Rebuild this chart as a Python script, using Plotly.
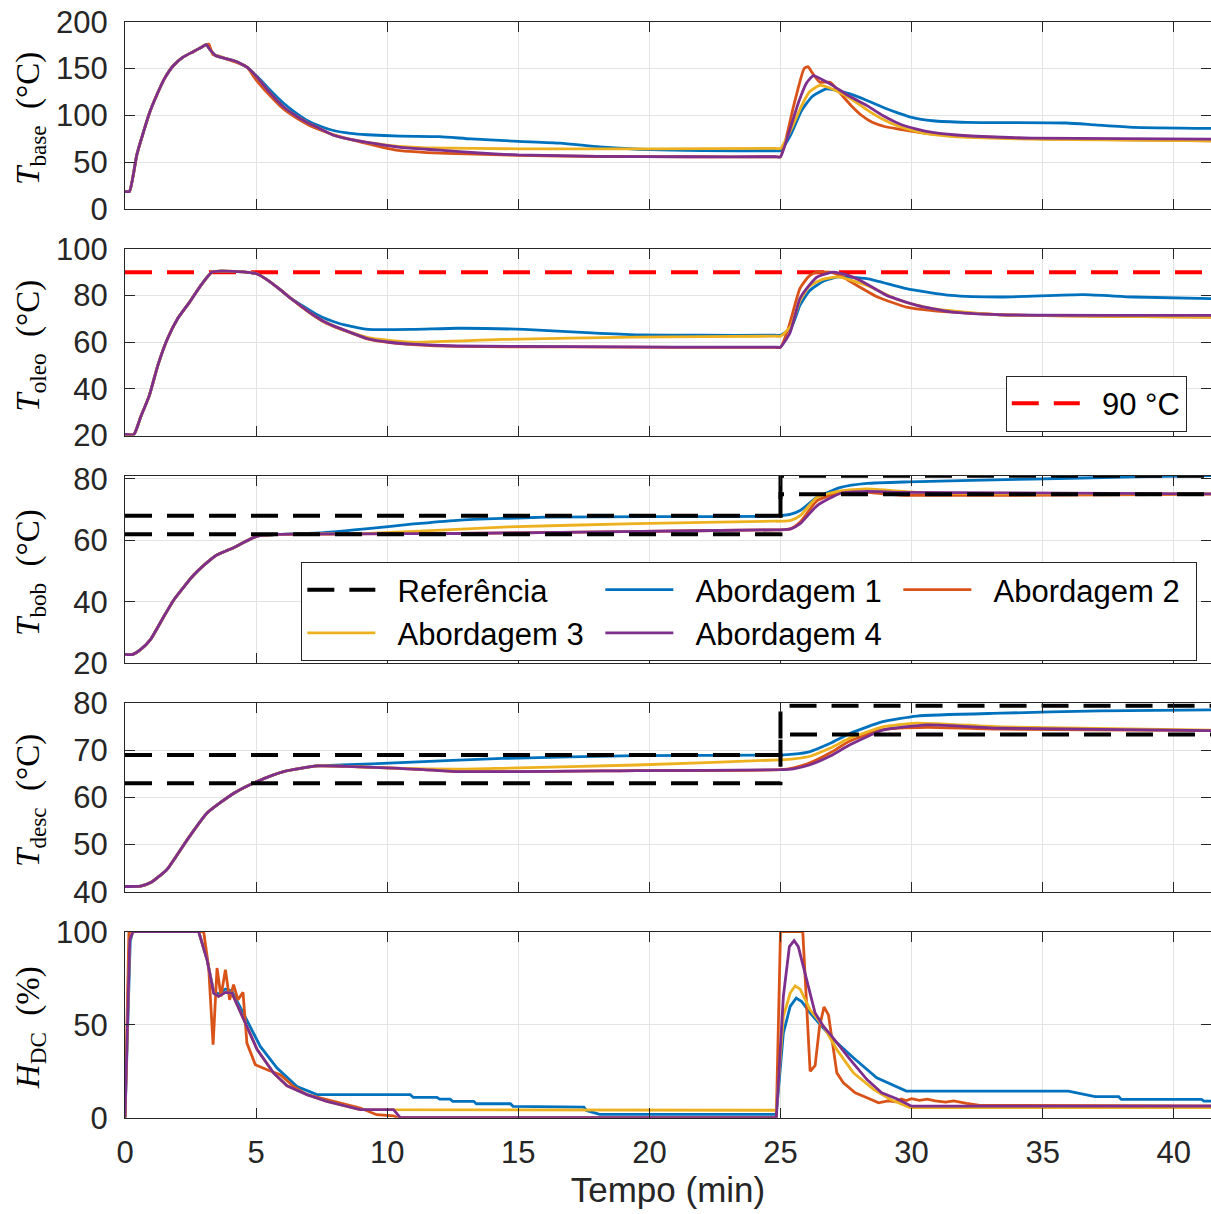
import plotly.graph_objects as go

# ---------------- data (time in min) ----------------
# Panel 1: T_base (°C)
t_b_rise = [0, 0.17, 0.45, 0.7, 0.95, 1.2, 1.5, 1.84, 2.2, 2.6, 2.9, 3.1]
v_b_rise = [19, 19, 58, 82, 104, 121, 139, 153, 162, 168, 172.5, 175.5]

t_base_1 = t_b_rise + [3.25, 3.45, 3.8, 4.13, 4.4, 4.65, 5.03, 5.5, 6.05, 6.5, 6.93, 7.5, 7.95, 8.6, 9.23, 10.5, 12, 13.2, 15, 16.6, 18.1, 19.6, 22, 24.8, 25, 25.4, 25.8, 26.2, 26.75, 27.2, 27.65, 28.3, 28.9, 29.5, 30.0, 30.8, 32.1, 35.9, 37, 38.45, 41.42]
base_1 = v_b_rise + [170, 164, 161, 158.6, 155.5, 151.5, 142, 128, 113, 103, 95, 88, 84, 81, 79.5, 78, 77.5, 75, 72.5, 70.5, 66.5, 64, 62.5, 62.4, 62.4, 80, 105, 120, 128.3, 126.5, 123, 116, 108.8, 102.5, 98, 94.4, 92.7, 92, 90, 87.4, 86.3]

t_base_2 = t_b_rise + [3.2, 3.35, 3.6, 3.9, 4.2, 4.4, 4.55, 4.7, 5.0, 5.5, 6.0, 6.5, 7.0, 7.5, 8.0, 9.0, 10.0, 10.5, 11.5, 13, 15, 18, 21.5, 24.8, 25, 25.5, 25.9, 26.05, 26.2, 26.5, 26.9, 27.3, 27.7, 28.1, 28.5, 29.0, 29.5, 30.8, 33, 35, 41.42]
base_2 = v_b_rise + [176, 165, 163, 160, 157, 155, 153.5, 150, 138, 122, 108, 98, 90, 84, 79, 71.5, 65, 62.5, 60.5, 59, 57.5, 56.3, 56, 56, 56, 110, 150, 152, 146, 135.5, 135.5, 123, 110.5, 100, 92.7, 88, 85.6, 80.2, 77, 75, 73]

t_base_3 = t_b_rise + [3.25, 3.45, 3.8, 4.13, 4.4, 4.65, 5.03, 5.5, 6.05, 6.5, 6.93, 7.5, 7.95, 8.6, 9.23, 10.0, 10.5, 11.5, 15, 20, 24.8, 25, 25.4, 25.8, 26.1, 26.5, 27.0, 27.7, 28.3, 28.9, 29.5, 30.2, 31, 32.1, 35, 41.42]
base_3 = v_b_rise + [170, 164, 161, 158.6, 155.5, 151.5, 141, 125, 109, 100, 92.7, 85, 79, 74.5, 71.3, 68.5, 67, 65.5, 64.5, 64.5, 64.9, 64.9, 85, 110, 125, 132, 128, 117.6, 106, 96, 88.5, 82.7, 79, 76.7, 74.5, 73]

t_base_4 = t_b_rise + [3.25, 3.45, 3.8, 4.13, 4.4, 4.65, 5.03, 5.5, 6.05, 6.5, 6.93, 7.5, 7.95, 8.6, 9.23, 10.0, 10.5, 11.5, 12, 13.5, 15, 18, 21.5, 24.8, 25, 25.3, 25.7, 26.0, 26.26, 26.6, 27.0, 27.6, 28.3, 28.9, 29.55, 30.2, 30.8, 32.1, 34.6, 41.42]
base_4 = v_b_rise + [170, 164, 161, 158.6, 155.5, 151.5, 141, 125, 109, 100, 92.7, 85, 79, 74.5, 71.3, 68, 66, 64, 63, 60, 58, 56.5, 56, 56, 56, 80, 115, 135, 142.6, 138, 131.9, 121, 110.5, 100, 91, 85.5, 82, 78.4, 75.9, 74.9]

# Panel 2: T_oleo (°C)
t_o_rise = [0, 0.34, 0.6, 0.93, 1.25, 1.62, 2.0, 2.47, 2.9, 3.32, 3.66, 4.3, 4.68, 5.02, 5.4, 5.87, 6.3]
v_o_rise = [20.5, 20.5, 28, 37.2, 50, 61.5, 70, 77.3, 84.5, 90.1, 90.5, 90.3, 90, 89.4, 87, 83, 79]

t_oleo_1 = t_o_rise + [6.72, 7.15, 7.57, 8.0, 8.42, 9.27, 10.97, 12.68, 15.23, 17.79, 19.49, 22, 24.8, 25.0, 25.4, 25.75, 26.1, 26.6, 27.2, 28.3, 29.8, 31.5, 33.4, 36.55, 38.45, 41.42]
oleo_1 = v_o_rise + [76, 73, 70.5, 68.7, 67.3, 65.5, 65.5, 66, 65.5, 64, 63.2, 63, 63, 63, 66, 76, 82, 86, 88, 87.3, 83, 80.1, 79.4, 80.4, 79.4, 78.7]

t_oleo_2 = t_o_rise + [6.72, 7.15, 7.57, 8.0, 8.42, 9.27, 10.1, 10.97, 12.68, 17, 21, 24.8, 25.0, 25.3, 25.74, 26.1, 26.4, 26.9, 27.3, 27.7, 28.2, 28.7, 29.8, 30.8, 33.4, 41.42]
oleo_2 = v_o_rise + [75.3, 71.8, 68.8, 66.6, 64.8, 61.3, 59.8, 59, 58.2, 58, 57.8, 57.8, 57.8, 66, 83, 88.5, 90.1, 90.1, 88.5, 85.8, 82.5, 79.4, 75.1, 73.6, 71.8, 70.8]

t_oleo_3 = t_o_rise + [6.72, 7.15, 7.57, 8.0, 8.42, 9.27, 10.97, 14.4, 19.49, 24.8, 25.0, 25.4, 25.75, 26.1, 26.6, 27.2, 28.3, 29.55, 30.8, 33.4, 41.42]
oleo_3 = v_o_rise + [75.5, 72, 69, 66.8, 65, 62, 60, 61.2, 62.2, 62.6, 62.6, 67, 78, 84, 87, 88, 84.4, 77.9, 74.4, 71.8, 70.8]

t_oleo_4 = t_o_rise + [6.72, 7.15, 7.57, 8.0, 8.42, 9.27, 10.1, 10.97, 12.68, 17, 21, 24.8, 25.0, 25.36, 25.74, 26.1, 26.4, 27.0, 27.5, 28.05, 29.05, 30.2, 31.5, 33.4, 41.42]
oleo_4 = v_o_rise + [75.5, 72, 69, 66.8, 65, 61.5, 60, 59.2, 58.4, 58.1, 57.9, 57.9, 57.9, 64, 78.7, 84.5, 88, 90.1, 89, 86.5, 80.1, 75.8, 73, 71.8, 71.5]

t_limit = [0, 41.42]
v_limit = [90, 90]

# Panel 3: T_bob (°C)
t_w_rise = [0, 0.3, 0.6, 0.97, 1.4, 1.86, 2.62, 3.32, 3.5, 4.14, 5.02, 5.87]
v_w_rise = [22.9, 22.9, 24.5, 27.7, 34, 40.6, 48.7, 54.1, 55.2, 57.6, 61.3, 61.9]

t_bob_1 = t_w_rise + [7.57, 9.27, 11.0, 12.68, 14.4, 16.08, 20, 24.6, 25.0, 25.4, 25.75, 26.4, 27.3, 28.3, 29.9, 34.6, 38.45, 41.42]
bob_1 = v_w_rise + [62.5, 63.8, 65.3, 66.5, 67.1, 67.5, 67.7, 67.8, 68, 68.5, 69.7, 74, 77.2, 78.5, 79, 79.9, 80.6, 81]

t_bob_2 = t_w_rise + [12.68, 19, 24.8, 25.0, 25.4, 25.75, 26.4, 27.3, 28.3, 29.55, 41.42]
bob_2 = v_w_rise + [62.2, 62.8, 63.4, 63.4, 63.8, 65.9, 72.9, 75.6, 75.6, 74.7, 75]

t_bob_3 = t_w_rise + [9.27, 14.4, 19.5, 24.8, 25.0, 25.4, 25.75, 26.4, 27.3, 28.3, 30.2, 33.4, 41.42]
bob_3 = v_w_rise + [62.2, 64.3, 65.4, 66.2, 66.2, 66.5, 68, 74, 76.1, 76.7, 75.6, 75.1, 75.1]

t_bob_4 = t_w_rise + [12.68, 19, 24.8, 25.0, 25.4, 25.75, 26.4, 27.3, 28.3, 29.55, 41.42]
bob_4 = v_w_rise + [62.2, 62.8, 63.4, 63.4, 63.7, 65.4, 71.3, 75.3, 75.9, 75.6, 75.1]

t_ref_bob = [0, 25, 25, 41.42]
ref_bob_low = [62, 62, 75, 75]
ref_bob_high = [68, 68, 81, 81]

# Panel 4: T_desc (°C)
t_d_rise = [0, 0.6, 1.0, 1.6, 2.37, 3.13, 4.15, 5.04, 6.05, 7.33]
v_d_rise = [41.1, 41.2, 42, 44.7, 51, 56.7, 60.9, 63.4, 65.5, 66.7]

t_desc_1 = t_d_rise + [8.25, 10.5, 14.4, 19.5, 25, 25.5, 26.1, 26.9, 27.65, 28.9, 30.2, 33.4, 37.2, 41.42]
desc_1 = v_d_rise + [66.9, 67.4, 68.3, 68.9, 69.0, 69.2, 69.7, 71.5, 73.6, 76.1, 77.3, 77.9, 78.4, 78.6]

t_desc_2 = t_d_rise + [8.42, 10.5, 12.68, 19.5, 25, 25.5, 26.1, 26.9, 27.65, 28.9, 30.6, 33.4, 41.42]
desc_2 = v_d_rise + [66.6, 66.2, 65.5, 65.7, 65.9, 66.3, 67.3, 69.5, 72, 74.4, 74.9, 74.5, 74.2]

t_desc_3 = t_d_rise + [8.42, 10.5, 12.68, 14.4, 19.5, 25, 25.5, 26.1, 26.9, 27.65, 28.9, 30.2, 33.4, 41.42]
desc_3 = v_d_rise + [66.6, 66.2, 66, 66.2, 66.9, 68, 68.2, 68.7, 70.5, 72.6, 75, 75.8, 75, 74.3]

t_desc_4 = t_d_rise + [8.42, 10.5, 12.68, 19.5, 25, 25.5, 26.1, 26.9, 27.65, 28.9, 30.6, 33.4, 41.42]
desc_4 = v_d_rise + [66.6, 66.2, 65.5, 65.7, 65.9, 66.1, 66.9, 68.8, 71.2, 74.3, 75.4, 74.7, 74.2]

t_ref_desc = [0, 25, 25, 41.42]
ref_desc_low = [63, 63, 73.4, 73.4]
ref_desc_high = [69, 69, 79.5, 79.5]

# Panel 5: H_DC (%)
t_hdc_1 = [0, 0.2, 0.3, 2.81, 3.13, 3.38, 3.57, 3.83, 4.08, 4.65, 5.16, 5.8, 6.56, 7.32, 10.88, 11.0, 11.9, 12.0, 12.4, 12.5, 13.3, 13.4, 14.7, 14.8, 16.5, 16.6, 17.5, 17.6, 18.1, 24.84, 25.11, 25.37, 25.6, 25.81, 26.13, 27.02, 27.78, 28.67, 29.24, 29.8, 35.98, 36.3, 37.0, 37.9, 38.0, 41.06, 41.15, 41.42]
hdc_1 = [0, 95, 100, 100, 85, 68, 66.5, 69.2, 68, 52.7, 38.3, 26.7, 16.8, 12.4, 12.4, 10.9, 10.9, 10, 10, 8.8, 8.8, 7.5, 7.5, 6.1, 6.1, 5.7, 5.7, 3.9, 1.8, 1.8, 45.5, 59.8, 64.3, 62.5, 56.3, 42, 32.2, 21.4, 17.8, 14.3, 14.3, 13.4, 11.3, 11.3, 9.8, 9.8, 8.9, 8.9]

t_hdc_2 = [0, 0.15, 3.0, 3.19, 3.36, 3.51, 3.66, 3.83, 3.99, 4.14, 4.31, 4.5, 4.65, 4.97, 5.42, 5.92, 6.43, 6.94, 7.7, 8.97, 9.6, 10.24, 10.4, 24.84, 25.0, 25.85, 26.13, 26.32, 26.49, 26.66, 26.83, 27.15, 27.4, 27.85, 28.3, 28.74, 29.1, 29.4, 29.6, 29.8, 30.0, 30.3, 30.6, 30.9, 31.3, 31.6, 32.1, 32.6, 41.42]
hdc_2 = [0, 100, 100, 81, 39.2, 80.5, 65.2, 79.6, 63.4, 71.5, 63.4, 67.4, 40.1, 28.5, 25.8, 23.1, 16.8, 12.4, 9.7, 5.2, 1.6, 1.0, 0, 0, 100, 100, 25, 28, 49, 59.5, 55.3, 24.1, 18.7, 13.4, 10.7, 8, 9, 8.5, 10, 9.2, 10.2, 9.3, 10, 9, 8.4, 9, 7.7, 6.6, 6.3]

t_hdc_3 = [0, 0.18, 0.3, 2.81, 3.13, 3.38, 3.57, 3.83, 4.08, 4.53, 5.04, 5.67, 6.18, 6.94, 7.7, 8.97, 10.24, 10.5, 24.84, 25.11, 25.37, 25.56, 25.75, 26.13, 26.64, 27.15, 27.78, 28.55, 29.2, 29.94, 41.42]
hdc_3 = [0, 95.7, 100, 100, 84.9, 67, 65.2, 67.4, 67, 52.7, 36.6, 24, 17.2, 12.4, 8.8, 4.3, 4.3, 4.0, 4.0, 54.4, 67, 70.9, 69.1, 58, 49.1, 36.6, 24.1, 15.2, 9.8, 5.4, 5.4]

t_hdc_4 = [0, 0.18, 0.3, 2.81, 3.13, 3.38, 3.57, 3.83, 4.08, 4.53, 5.04, 5.67, 6.18, 6.94, 7.7, 8.97, 10.24, 10.5, 24.84, 25.11, 25.34, 25.52, 25.68, 26.0, 26.32, 26.64, 26.96, 27.66, 28.3, 28.86, 29.43, 30.0, 41.42]
hdc_4 = [0, 95.7, 100, 100, 84.9, 67, 65.2, 67.4, 67, 52.7, 36.6, 24, 17.2, 12.4, 8.8, 4.3, 4.3, 0, 0, 65.2, 92, 95.2, 92, 74.1, 56.3, 49.1, 43.7, 31.2, 20.5, 13.4, 10.2, 6.2, 6.2]

series_names = ["Abordagem 1", "Abordagem 2", "Abordagem 3", "Abordagem 4"]
ref_name = "Referência"
limit_name = "90 °C"

x_ticks = [0, 5, 10, 15, 20, 25, 30, 35, 40]
y_ticks = [[0, 50, 100, 150, 200], [20, 40, 60, 80, 100], [20, 40, 60, 80], [40, 50, 60, 70, 80], [0, 50, 100]]
y_ranges = [[0, 200], [20, 100], [20, 81], [40, 80], [0, 100]]
y_titles = ["<i>T</i><sub>base</sub>\u00a0\u00a0(°C)", "<i>T</i><sub>oleo</sub>\u00a0\u00a0(°C)",
            "<i>T</i><sub>bob</sub>\u00a0\u00a0(°C)", "<i>T</i><sub>desc</sub>\u00a0\u00a0(°C)",
            "<i>H</i><sub>DC</sub>\u00a0\u00a0(%)"]
x_title = "Tempo (min)"

# ---------------- style / layout ----------------
W, H = 1211, 1214
ML = 124.6
PW = W - ML
colors = ["#0072BD", "#D95319", "#EDB120", "#7E2F8E"]
axc = "#262626"
gridc = "#e3e3e3"
panel_px = [(21.7, 209.3), (249.0, 435.5), (475.7, 663.3), (703.3, 891.7), (931.7, 1117.7)]

def fy(p):
    return 1 - p / H

def fx(p):
    return (p - ML) / PW

series_data = [
    [(t_base_1, base_1), (t_base_2, base_2), (t_base_3, base_3), (t_base_4, base_4)],
    [(t_oleo_1, oleo_1), (t_oleo_2, oleo_2), (t_oleo_3, oleo_3), (t_oleo_4, oleo_4)],
    [(t_bob_1, bob_1), (t_bob_2, bob_2), (t_bob_3, bob_3), (t_bob_4, bob_4)],
    [(t_desc_1, desc_1), (t_desc_2, desc_2), (t_desc_3, desc_3), (t_desc_4, desc_4)],
    [(t_hdc_1, hdc_1), (t_hdc_2, hdc_2), (t_hdc_3, hdc_3), (t_hdc_4, hdc_4)],
]

fig = go.Figure()
dash = "27px,15px"

for i in range(5):
    xa = "x" if i == 0 else f"x{i+1}"
    ya = "y" if i == 0 else f"y{i+1}"
    if i == 1:
        fig.add_trace(go.Scatter(x=t_limit, y=v_limit, mode="lines", name="\u00a0\u00a0" + limit_name,
                                 line=dict(color="#FF0000", width=4, dash=dash),
                                 xaxis=xa, yaxis=ya, legend="legend", showlegend=True))
    for k, (tt, vv) in enumerate(series_data[i]):
        ln = dict(color=colors[k], width=2.8)
        if i < 4:
            ln.update(shape="spline", smoothing=0.5)
        fig.add_trace(go.Scatter(x=tt, y=vv, mode="lines", name="\u00a0\u00a0" + series_names[k],
                                 line=ln, xaxis=xa, yaxis=ya, legend="legend2",
                                 showlegend=(i == 2), legendrank=10 + k))
    if i == 2:
        fig.add_trace(go.Scatter(x=t_ref_bob, y=ref_bob_low, mode="lines", name="\u00a0\u00a0" + ref_name,
                                 line=dict(color="black", width=4, dash=dash),
                                 xaxis=xa, yaxis=ya, legend="legend2", showlegend=True, legendrank=1))
        fig.add_trace(go.Scatter(x=t_ref_bob, y=ref_bob_high, mode="lines", name=ref_name,
                                 line=dict(color="black", width=4, dash=dash),
                                 xaxis=xa, yaxis=ya, showlegend=False))
    if i == 3:
        for rv in (ref_desc_low, ref_desc_high):
            fig.add_trace(go.Scatter(x=t_ref_desc, y=rv, mode="lines", name=ref_name,
                                     line=dict(color="black", width=4, dash=dash),
                                     xaxis=xa, yaxis=ya, showlegend=False))

sans = "Liberation Sans, Arial, sans-serif"
tickfont = dict(family=sans, size=31, color=axc)
layout = dict(
    template="none",
    width=W, height=H,
    margin=dict(l=ML, r=0, t=0, b=0, pad=0, autoexpand=False),
    paper_bgcolor="white", plot_bgcolor="white",
    showlegend=True,
    legend=dict(x=fx(1005.7), y=fy(375.7), xanchor="left", yanchor="top",
                bordercolor=axc, borderwidth=1, bgcolor="white",
                font=dict(family=sans, size=31, color="black"),
                itemwidth=68),
    legend2=dict(x=fx(301), y=fy(562), xanchor="left", yanchor="top", orientation="h",
                 bordercolor=axc, borderwidth=1, bgcolor="white",
                 font=dict(family=sans, size=31, color="black"),
                 itemwidth=68, entrywidth=215, entrywidthmode="pixels",
                 traceorder="normal"),
)
for i in range(5):
    top, bot = panel_px[i]
    xk = "xaxis" if i == 0 else f"xaxis{i+1}"
    yk = "yaxis" if i == 0 else f"yaxis{i+1}"
    ya = "y" if i == 0 else f"y{i+1}"
    xa = "x" if i == 0 else f"x{i+1}"
    layout[xk] = dict(domain=[0, 1], anchor=ya, range=[0, 41.42], tickvals=x_ticks,
                      showticklabels=(i == 4), ticks="inside", ticklen=10, tickwidth=1, tickcolor=axc,
                      showline=True, linecolor=axc, linewidth=1, mirror="allticks",
                      showgrid=True, gridcolor=gridc, gridwidth=1, zeroline=False, automargin=False,
                      tickfont=tickfont, ticklabelstandoff=7)
    if i > 0:
        layout[xk]["matches"] = "x"
    layout[yk] = dict(domain=[fy(bot), fy(top)], anchor=xa, range=y_ranges[i], tickvals=y_ticks[i],
                      ticks="inside", ticklen=10, tickwidth=1, tickcolor=axc,
                      showline=True, linecolor=axc, linewidth=1, mirror="allticks",
                      showgrid=True, gridcolor=gridc, gridwidth=1, zeroline=False, automargin=False,
                      tickfont=tickfont, ticklabelstandoff=10)
layout["xaxis5"]["title"] = dict(text=x_title, font=dict(family=sans, size=35, color=axc), standoff=8)

annotations = []
for i in range(5):
    top, bot = panel_px[i]
    annotations.append(dict(text=y_titles[i], xref="paper", yref="paper",
                            x=fx(30), y=fy((top + bot) / 2 + 3), xanchor="center", yanchor="middle",
                            textangle=-90, showarrow=False,
                            font=dict(family="Liberation Serif, Times New Roman, serif", size=33, color="black")))
layout["annotations"] = annotations

fig.update_layout(**layout)
fig.write_html("out.html", config={"displayModeBar": False},
               post_script="document.body.style.margin='0px';")
